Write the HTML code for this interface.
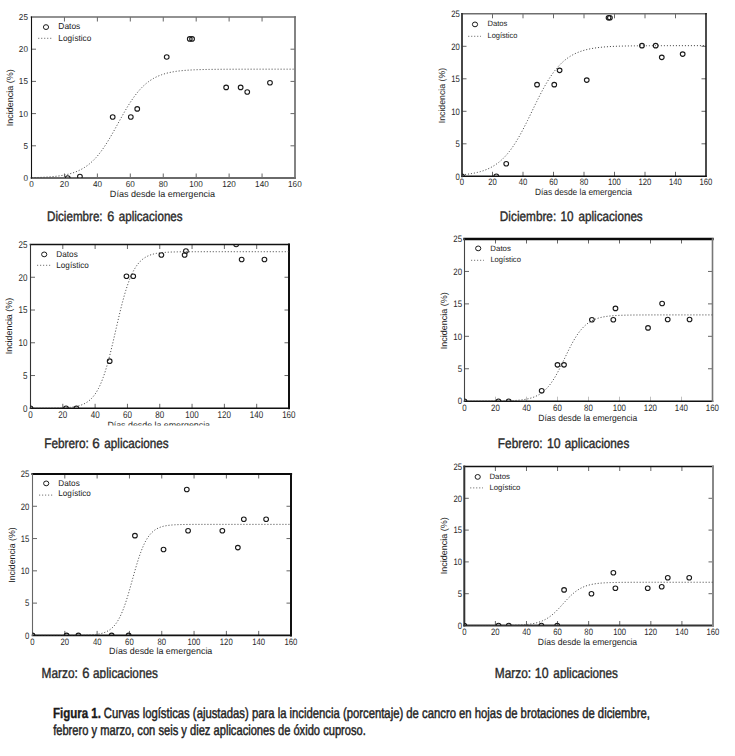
<!DOCTYPE html>
<html><head><meta charset="utf-8"><style>
html,body{margin:0;padding:0;background:#fff;}
svg{display:block;}
text{font-family:"Liberation Sans",sans-serif;fill:#1e1e1e;text-rendering:geometricPrecision;}
.t{fill:#2a2a2a;}
.a{fill:#222;}
.l{fill:#222;}
.c{fill:#2a2a2a;stroke:#2a2a2a;stroke-width:0.4px;}
.fb{fill:#1a1a1a;font-weight:bold;stroke:#1a1a1a;stroke-width:0.35px;}
.fr{fill:#222;stroke:#222;stroke-width:0.45px;}
</style></head><body>
<svg width="735" height="756" viewBox="0 0 735 756">
<rect width="735" height="756" fill="#fff"/>
<g><path d="M64.44 178v-4.5" stroke="#333" stroke-width="0.75"/><path d="M64.44 17v4.5" stroke="#333" stroke-width="0.75"/>
<path d="M97.38 178v-4.5" stroke="#333" stroke-width="0.75"/><path d="M97.38 17v4.5" stroke="#333" stroke-width="0.75"/>
<path d="M130.31 178v-4.5" stroke="#333" stroke-width="0.75"/><path d="M130.31 17v4.5" stroke="#333" stroke-width="0.75"/>
<path d="M163.25 178v-4.5" stroke="#333" stroke-width="0.75"/><path d="M163.25 17v4.5" stroke="#333" stroke-width="0.75"/>
<path d="M196.19 178v-4.5" stroke="#333" stroke-width="0.75"/><path d="M196.19 17v4.5" stroke="#333" stroke-width="0.75"/>
<path d="M229.12 178v-4.5" stroke="#333" stroke-width="0.75"/><path d="M229.12 17v4.5" stroke="#333" stroke-width="0.75"/>
<path d="M262.06 178v-4.5" stroke="#333" stroke-width="0.75"/><path d="M262.06 17v4.5" stroke="#333" stroke-width="0.75"/>
<path d="M31.5 145.8h4.5M295 145.8h-4.5" stroke="#333" stroke-width="0.75"/>
<path d="M31.5 113.6h4.5M295 113.6h-4.5" stroke="#333" stroke-width="0.75"/>
<path d="M31.5 81.4h4.5M295 81.4h-4.5" stroke="#333" stroke-width="0.75"/>
<path d="M31.5 49.2h4.5M295 49.2h-4.5" stroke="#333" stroke-width="0.75"/>
<line x1="31.5" y1="17" x2="295" y2="17" stroke="#6e6e6e" stroke-width="1.7" stroke-linecap="square"/>
<line x1="31.5" y1="178" x2="295" y2="178" stroke="#6a6a6a" stroke-width="1.8" stroke-linecap="square"/>
<line x1="31.5" y1="17" x2="31.5" y2="178" stroke="#111" stroke-width="1.1" stroke-linecap="square"/>
<line x1="295" y1="17" x2="295" y2="178" stroke="#6e6e6e" stroke-width="1.7" stroke-linecap="square"/>
<text class="t" x="23.39" y="181.04" font-size="8.6" textLength="4.54" lengthAdjust="spacingAndGlyphs">0</text>
<text class="t" x="23.39" y="148.84" font-size="8.6" textLength="4.54" lengthAdjust="spacingAndGlyphs">5</text>
<text class="t" x="18.86" y="116.64" font-size="8.6" textLength="9.09" lengthAdjust="spacingAndGlyphs">10</text>
<text class="t" x="18.86" y="84.44" font-size="8.6" textLength="9.09" lengthAdjust="spacingAndGlyphs">15</text>
<text class="t" x="18.86" y="52.24" font-size="8.6" textLength="9.09" lengthAdjust="spacingAndGlyphs">20</text>
<text class="t" x="18.86" y="20.04" font-size="8.6" textLength="9.09" lengthAdjust="spacingAndGlyphs">25</text>
<text class="t" x="29.23" y="186.6" font-size="8.6" textLength="4.54" lengthAdjust="spacingAndGlyphs">0</text>
<text class="t" x="59.86" y="186.6" font-size="8.6" textLength="9.09" lengthAdjust="spacingAndGlyphs">20</text>
<text class="t" x="92.9" y="186.6" font-size="8.6" textLength="9.09" lengthAdjust="spacingAndGlyphs">40</text>
<text class="t" x="125.74" y="186.6" font-size="8.6" textLength="9.09" lengthAdjust="spacingAndGlyphs">60</text>
<text class="t" x="158.7" y="186.6" font-size="8.6" textLength="9.09" lengthAdjust="spacingAndGlyphs">80</text>
<text class="t" x="189.24" y="186.6" font-size="8.6" textLength="13.63" lengthAdjust="spacingAndGlyphs">100</text>
<text class="t" x="222.18" y="186.6" font-size="8.6" textLength="13.63" lengthAdjust="spacingAndGlyphs">120</text>
<text class="t" x="255.12" y="186.6" font-size="8.6" textLength="13.63" lengthAdjust="spacingAndGlyphs">140</text>
<text class="t" x="288.06" y="186.6" font-size="8.6" textLength="13.63" lengthAdjust="spacingAndGlyphs">160</text>
<text class="a" x="109.88" y="196.6" font-size="9" textLength="105.15" lengthAdjust="spacingAndGlyphs">Días desde la emergencia</text>
<text class="a" transform="translate(12.9 125.5) rotate(-90)" x="-0.81" y="0" font-size="9" textLength="56.96" lengthAdjust="spacingAndGlyphs">Incidencia (%)</text>
<ellipse cx="46" cy="27.1" rx="2.6" ry="2.4" fill="none" stroke="#1a1a1a" stroke-width="1"/>
<text class="l" x="58.33" y="28.8" font-size="8.6" textLength="21.99" lengthAdjust="spacingAndGlyphs">Datos</text>
<path d="M38.1 38.3H52.4" stroke="#666" stroke-width="0.9" stroke-dasharray="1.2 1.8"/>
<text class="l" x="58.34" y="40.7" font-size="8.6" textLength="33.01" lengthAdjust="spacingAndGlyphs">Logístico</text>
<clipPath id="cP1"><rect x="31.5" y="17" width="263.5" height="161"/></clipPath>
<g clip-path="url(#cP1)">
<polyline points="31.5,177.66 33.15,177.62 34.79,177.58 36.44,177.53 38.09,177.48 39.73,177.42 41.38,177.35 43.03,177.28 44.67,177.19 46.32,177.1 47.97,176.99 49.62,176.88 51.26,176.75 52.91,176.61 54.56,176.45 56.2,176.27 57.85,176.07 59.5,175.85 61.14,175.61 62.79,175.34 64.44,175.03 66.08,174.7 67.73,174.33 69.38,173.92 71.03,173.46 72.67,172.96 74.32,172.4 75.97,171.79 77.61,171.11 79.26,170.37 80.91,169.55 82.55,168.65 84.2,167.67 85.85,166.59 87.49,165.42 89.14,164.14 90.79,162.76 92.43,161.26 94.08,159.64 95.73,157.9 97.38,156.04 99.02,154.04 100.67,151.93 102.32,149.68 103.96,147.32 105.61,144.84 107.26,142.25 108.9,139.56 110.55,136.78 112.2,133.93 113.84,131.02 115.49,128.06 117.14,125.08 118.78,122.09 120.43,119.1 122.08,116.15 123.72,113.23 125.37,110.38 127.02,107.6 128.67,104.92 130.31,102.33 131.96,99.85 133.61,97.48 135.25,95.24 136.9,93.12 138.55,91.13 140.19,89.26 141.84,87.52 143.49,85.9 145.13,84.4 146.78,83.02 148.43,81.74 150.07,80.57 151.72,79.49 153.37,78.51 155.02,77.61 156.66,76.79 158.31,76.05 159.96,75.37 161.6,74.76 163.25,74.2 164.9,73.7 166.54,73.25 168.19,72.84 169.84,72.46 171.48,72.13 173.13,71.83 174.78,71.56 176.43,71.31 178.07,71.09 179.72,70.9 181.37,70.72 183.01,70.56 184.66,70.41 186.31,70.29 187.95,70.17 189.6,70.07 191.25,69.97 192.89,69.89 194.54,69.81 196.19,69.75 197.83,69.69 199.48,69.63 201.13,69.58 202.78,69.54 204.42,69.5 206.07,69.47 207.72,69.43 209.36,69.41 211.01,69.38 212.66,69.36 214.3,69.34 215.95,69.32 217.6,69.3 219.24,69.29 220.89,69.28 222.54,69.26 224.18,69.25 225.83,69.24 227.48,69.24 229.12,69.23 230.77,69.22 232.42,69.22 234.07,69.21 235.71,69.21 237.36,69.2 239.01,69.2 240.65,69.19 242.3,69.19 243.95,69.19 245.59,69.19 247.24,69.18 248.89,69.18 250.53,69.18 252.18,69.18 253.83,69.18 255.47,69.18 257.12,69.17 258.77,69.17 260.42,69.17 262.06,69.17 263.71,69.17 265.36,69.17 267,69.17 268.65,69.17 270.3,69.17 271.94,69.17 273.59,69.17 275.24,69.17 276.88,69.17 278.53,69.17 280.18,69.17 281.82,69.17 283.47,69.17 285.12,69.17 286.77,69.17 288.41,69.17 290.06,69.17 291.71,69.16 293.35,69.16 295,69.16" fill="none" stroke="#444" stroke-width="0.95" stroke-dasharray="1.1 1.9"/>
<ellipse cx="67.73" cy="178" rx="2.35" ry="2.25" fill="none" stroke="#1a1a1a" stroke-width="1.1"/>
<ellipse cx="79.92" cy="176.52" rx="2.35" ry="2.25" fill="none" stroke="#1a1a1a" stroke-width="1.1"/>
<ellipse cx="112.69" cy="117.01" rx="2.35" ry="2.25" fill="none" stroke="#1a1a1a" stroke-width="1.1"/>
<ellipse cx="130.81" cy="117.01" rx="2.35" ry="2.25" fill="none" stroke="#1a1a1a" stroke-width="1.1"/>
<ellipse cx="137.23" cy="108.9" rx="2.35" ry="2.25" fill="none" stroke="#1a1a1a" stroke-width="1.1"/>
<ellipse cx="166.71" cy="56.93" rx="2.35" ry="2.25" fill="none" stroke="#1a1a1a" stroke-width="1.1"/>
<ellipse cx="189.76" cy="38.9" rx="2.35" ry="2.25" fill="none" stroke="#1a1a1a" stroke-width="1.1"/>
<ellipse cx="192.07" cy="38.9" rx="2.35" ry="2.25" fill="none" stroke="#1a1a1a" stroke-width="1.1"/>
<ellipse cx="226.16" cy="87.39" rx="2.35" ry="2.25" fill="none" stroke="#1a1a1a" stroke-width="1.1"/>
<ellipse cx="240.65" cy="87.39" rx="2.35" ry="2.25" fill="none" stroke="#1a1a1a" stroke-width="1.1"/>
<ellipse cx="247.24" cy="92.03" rx="2.35" ry="2.25" fill="none" stroke="#1a1a1a" stroke-width="1.1"/>
<ellipse cx="269.97" cy="82.69" rx="2.35" ry="2.25" fill="none" stroke="#1a1a1a" stroke-width="1.1"/>
</g>
<text class="c" x="47.07" y="220.7" font-size="13.8" textLength="55.52" lengthAdjust="spacingAndGlyphs">Diciembre:</text>
<text class="c" x="107.27" y="220.7" font-size="13.8" textLength="7.01" lengthAdjust="spacingAndGlyphs">6</text>
<text class="c" x="118.78" y="220.7" font-size="13.8" textLength="63.81" lengthAdjust="spacingAndGlyphs">aplicaciones</text></g>
<g><path d="M492.5 176.3v-4.5" stroke="#333" stroke-width="0.75"/><path d="M492.5 13.8v4.5" stroke="#333" stroke-width="0.75"/>
<path d="M523 176.3v-4.5" stroke="#333" stroke-width="0.75"/><path d="M523 13.8v4.5" stroke="#333" stroke-width="0.75"/>
<path d="M553.5 176.3v-4.5" stroke="#333" stroke-width="0.75"/><path d="M553.5 13.8v4.5" stroke="#333" stroke-width="0.75"/>
<path d="M584 176.3v-4.5" stroke="#333" stroke-width="0.75"/><path d="M584 13.8v4.5" stroke="#333" stroke-width="0.75"/>
<path d="M614.5 176.3v-4.5" stroke="#333" stroke-width="0.75"/><path d="M614.5 13.8v4.5" stroke="#333" stroke-width="0.75"/>
<path d="M645 176.3v-4.5" stroke="#333" stroke-width="0.75"/><path d="M645 13.8v4.5" stroke="#333" stroke-width="0.75"/>
<path d="M675.5 176.3v-4.5" stroke="#333" stroke-width="0.75"/><path d="M675.5 13.8v4.5" stroke="#333" stroke-width="0.75"/>
<path d="M462 143.8h4.5M706 143.8h-4.5" stroke="#333" stroke-width="0.75"/>
<path d="M462 111.3h4.5M706 111.3h-4.5" stroke="#333" stroke-width="0.75"/>
<path d="M462 78.8h4.5M706 78.8h-4.5" stroke="#333" stroke-width="0.75"/>
<path d="M462 46.3h4.5M706 46.3h-4.5" stroke="#333" stroke-width="0.75"/>
<line x1="462" y1="13.8" x2="706" y2="13.8" stroke="#6e6e6e" stroke-width="1.6" stroke-linecap="square"/>
<line x1="462" y1="176.3" x2="706" y2="176.3" stroke="#111" stroke-width="1.5" stroke-linecap="square"/>
<line x1="462" y1="13.8" x2="462" y2="176.3" stroke="#333" stroke-width="1.8" stroke-linecap="square"/>
<line x1="706" y1="13.8" x2="706" y2="176.3" stroke="#111" stroke-width="1.5" stroke-linecap="square"/>
<text class="t" x="455.62" y="179.59" font-size="9.3" textLength="4.29" lengthAdjust="spacingAndGlyphs">0</text>
<text class="t" x="455.62" y="147.09" font-size="9.3" textLength="4.29" lengthAdjust="spacingAndGlyphs">5</text>
<text class="t" x="451.34" y="114.59" font-size="9.3" textLength="8.59" lengthAdjust="spacingAndGlyphs">10</text>
<text class="t" x="451.34" y="82.09" font-size="9.3" textLength="8.59" lengthAdjust="spacingAndGlyphs">15</text>
<text class="t" x="451.34" y="49.59" font-size="9.3" textLength="8.59" lengthAdjust="spacingAndGlyphs">20</text>
<text class="t" x="451.34" y="17.09" font-size="9.3" textLength="8.59" lengthAdjust="spacingAndGlyphs">25</text>
<text class="t" x="459.86" y="185" font-size="9.3" textLength="4.29" lengthAdjust="spacingAndGlyphs">0</text>
<text class="t" x="488.18" y="185" font-size="9.3" textLength="8.59" lengthAdjust="spacingAndGlyphs">20</text>
<text class="t" x="518.77" y="185" font-size="9.3" textLength="8.59" lengthAdjust="spacingAndGlyphs">40</text>
<text class="t" x="549.18" y="185" font-size="9.3" textLength="8.59" lengthAdjust="spacingAndGlyphs">60</text>
<text class="t" x="579.7" y="185" font-size="9.3" textLength="8.59" lengthAdjust="spacingAndGlyphs">80</text>
<text class="t" x="607.94" y="185" font-size="9.3" textLength="12.88" lengthAdjust="spacingAndGlyphs">100</text>
<text class="t" x="638.44" y="185" font-size="9.3" textLength="12.88" lengthAdjust="spacingAndGlyphs">120</text>
<text class="t" x="668.94" y="185" font-size="9.3" textLength="12.88" lengthAdjust="spacingAndGlyphs">140</text>
<text class="t" x="699.44" y="185" font-size="9.3" textLength="12.88" lengthAdjust="spacingAndGlyphs">160</text>
<text class="a" x="535.03" y="194.9" font-size="9" textLength="96.99" lengthAdjust="spacingAndGlyphs">Días desde la emergencia</text>
<text class="a" transform="translate(444.9 122.5) rotate(-90)" x="-0.79" y="0" font-size="9" textLength="55.42" lengthAdjust="spacingAndGlyphs">Incidencia (%)</text>
<ellipse cx="475" cy="24.4" rx="2.6" ry="2.4" fill="none" stroke="#1a1a1a" stroke-width="1"/>
<text class="l" x="487.49" y="26.3" font-size="7.8" textLength="19.89" lengthAdjust="spacingAndGlyphs">Datos</text>
<path d="M468.1 36.3H481" stroke="#666" stroke-width="0.9" stroke-dasharray="1.2 1.8"/>
<text class="l" x="487.5" y="37.7" font-size="7.8" textLength="29.92" lengthAdjust="spacingAndGlyphs">Logístico</text>
<clipPath id="cP2"><rect x="462" y="13.8" width="244" height="162.5"/></clipPath>
<g clip-path="url(#cP2)">
<polyline points="462,174.81 463.52,174.66 465.05,174.49 466.57,174.31 468.1,174.11 469.62,173.9 471.15,173.66 472.68,173.39 474.2,173.1 475.73,172.79 477.25,172.44 478.77,172.06 480.3,171.64 481.82,171.19 483.35,170.69 484.88,170.14 486.4,169.55 487.93,168.9 489.45,168.2 490.98,167.43 492.5,166.59 494.02,165.68 495.55,164.69 497.07,163.63 498.6,162.47 500.12,161.23 501.65,159.88 503.18,158.44 504.7,156.89 506.23,155.23 507.75,153.46 509.27,151.58 510.8,149.57 512.33,147.45 513.85,145.21 515.38,142.86 516.9,140.39 518.42,137.81 519.95,135.12 521.48,132.34 523,129.47 524.52,126.51 526.05,123.49 527.58,120.41 529.1,117.29 530.62,114.14 532.15,110.98 533.67,107.81 535.2,104.66 536.73,101.54 538.25,98.46 539.77,95.44 541.3,92.48 542.83,89.61 544.35,86.83 545.88,84.14 547.4,81.56 548.92,79.09 550.45,76.74 551.98,74.5 553.5,72.38 555.02,70.37 556.55,68.49 558.08,66.72 559.6,65.06 561.12,63.51 562.65,62.07 564.17,60.72 565.7,59.48 567.23,58.32 568.75,57.26 570.27,56.27 571.8,55.36 573.33,54.52 574.85,53.75 576.38,53.05 577.9,52.4 579.42,51.81 580.95,51.26 582.48,50.76 584,50.31 585.52,49.89 587.05,49.51 588.58,49.16 590.1,48.85 591.62,48.56 593.15,48.29 594.67,48.05 596.2,47.84 597.73,47.64 599.25,47.46 600.77,47.29 602.3,47.14 603.83,47 605.35,46.88 606.88,46.77 608.4,46.66 609.92,46.57 611.45,46.49 612.98,46.41 614.5,46.34 616.02,46.28 617.55,46.22 619.08,46.17 620.6,46.12 622.12,46.08 623.65,46.04 625.17,46 626.7,45.97 628.23,45.94 629.75,45.91 631.27,45.89 632.8,45.87 634.33,45.85 635.85,45.83 637.38,45.81 638.9,45.8 640.42,45.78 641.95,45.77 643.48,45.76 645,45.75 646.52,45.74 648.05,45.73 649.58,45.72 651.1,45.72 652.62,45.71 654.15,45.71 655.67,45.7 657.2,45.7 658.73,45.69 660.25,45.69 661.77,45.68 663.3,45.68 664.83,45.68 666.35,45.68 667.88,45.67 669.4,45.67 670.92,45.67 672.45,45.67 673.98,45.67 675.5,45.66 677.02,45.66 678.55,45.66 680.08,45.66 681.6,45.66 683.12,45.66 684.65,45.66 686.17,45.66 687.7,45.66 689.23,45.66 690.75,45.66 692.27,45.65 693.8,45.65 695.33,45.65 696.85,45.65 698.38,45.65 699.9,45.65 701.42,45.65 702.95,45.65 704.48,45.65 706,45.65" fill="none" stroke="#444" stroke-width="0.95" stroke-dasharray="1.1 1.9"/>
<ellipse cx="462" cy="176.3" rx="2.35" ry="2.25" fill="none" stroke="#1a1a1a" stroke-width="1.1"/>
<ellipse cx="496.31" cy="176.3" rx="2.35" ry="2.25" fill="none" stroke="#1a1a1a" stroke-width="1.1"/>
<ellipse cx="506.23" cy="163.69" rx="2.35" ry="2.25" fill="none" stroke="#1a1a1a" stroke-width="1.1"/>
<ellipse cx="537.03" cy="84.65" rx="2.35" ry="2.25" fill="none" stroke="#1a1a1a" stroke-width="1.1"/>
<ellipse cx="554.26" cy="84.65" rx="2.35" ry="2.25" fill="none" stroke="#1a1a1a" stroke-width="1.1"/>
<ellipse cx="559.6" cy="70.35" rx="2.35" ry="2.25" fill="none" stroke="#1a1a1a" stroke-width="1.1"/>
<ellipse cx="586.75" cy="80.1" rx="2.35" ry="2.25" fill="none" stroke="#1a1a1a" stroke-width="1.1"/>
<ellipse cx="608.55" cy="17.7" rx="2.35" ry="2.25" fill="none" stroke="#1a1a1a" stroke-width="1.1"/>
<ellipse cx="609.92" cy="17.7" rx="2.35" ry="2.25" fill="none" stroke="#1a1a1a" stroke-width="1.1"/>
<ellipse cx="641.95" cy="45.65" rx="2.35" ry="2.25" fill="none" stroke="#1a1a1a" stroke-width="1.1"/>
<ellipse cx="655.67" cy="45.65" rx="2.35" ry="2.25" fill="none" stroke="#1a1a1a" stroke-width="1.1"/>
<ellipse cx="661.77" cy="57.35" rx="2.35" ry="2.25" fill="none" stroke="#1a1a1a" stroke-width="1.1"/>
<ellipse cx="682.67" cy="54.1" rx="2.35" ry="2.25" fill="none" stroke="#1a1a1a" stroke-width="1.1"/>
</g>
<text class="c" x="499.86" y="220.7" font-size="13.8" textLength="56.35" lengthAdjust="spacingAndGlyphs">Diciembre:</text>
<text class="c" x="560.43" y="220.7" font-size="13.8" textLength="12.97" lengthAdjust="spacingAndGlyphs">10</text>
<text class="c" x="578.58" y="220.7" font-size="13.8" textLength="64.12" lengthAdjust="spacingAndGlyphs">aplicaciones</text></g>
<g><path d="M62.81 408.3v-4.5" stroke="#333" stroke-width="0.75"/><path d="M62.81 244.5v4.5" stroke="#333" stroke-width="0.75"/>
<path d="M95.12 408.3v-4.5" stroke="#333" stroke-width="0.75"/><path d="M95.12 244.5v4.5" stroke="#333" stroke-width="0.75"/>
<path d="M127.44 408.3v-4.5" stroke="#333" stroke-width="0.75"/><path d="M127.44 244.5v4.5" stroke="#333" stroke-width="0.75"/>
<path d="M159.75 408.3v-4.5" stroke="#333" stroke-width="0.75"/><path d="M159.75 244.5v4.5" stroke="#333" stroke-width="0.75"/>
<path d="M192.06 408.3v-4.5" stroke="#333" stroke-width="0.75"/><path d="M192.06 244.5v4.5" stroke="#333" stroke-width="0.75"/>
<path d="M224.38 408.3v-4.5" stroke="#333" stroke-width="0.75"/><path d="M224.38 244.5v4.5" stroke="#333" stroke-width="0.75"/>
<path d="M256.69 408.3v-4.5" stroke="#333" stroke-width="0.75"/><path d="M256.69 244.5v4.5" stroke="#333" stroke-width="0.75"/>
<path d="M30.5 375.54h4.5M289 375.54h-4.5" stroke="#333" stroke-width="0.75"/>
<path d="M30.5 342.78h4.5M289 342.78h-4.5" stroke="#333" stroke-width="0.75"/>
<path d="M30.5 310.02h4.5M289 310.02h-4.5" stroke="#333" stroke-width="0.75"/>
<path d="M30.5 277.26h4.5M289 277.26h-4.5" stroke="#333" stroke-width="0.75"/>
<line x1="30.5" y1="244.5" x2="289" y2="244.5" stroke="#111" stroke-width="1.6" stroke-linecap="square"/>
<line x1="30.5" y1="408.3" x2="289" y2="408.3" stroke="#111" stroke-width="1.6" stroke-linecap="square"/>
<line x1="30.5" y1="244.5" x2="30.5" y2="408.3" stroke="#333" stroke-width="1.1" stroke-linecap="square"/>
<line x1="289" y1="244.5" x2="289" y2="408.3" stroke="#111" stroke-width="2" stroke-linecap="square"/>
<text class="t" x="23.06" y="411.77" font-size="9.8" textLength="4.47" lengthAdjust="spacingAndGlyphs">0</text>
<text class="t" x="23.06" y="379.01" font-size="9.8" textLength="4.47" lengthAdjust="spacingAndGlyphs">5</text>
<text class="t" x="18.6" y="346.25" font-size="9.8" textLength="8.94" lengthAdjust="spacingAndGlyphs">10</text>
<text class="t" x="18.6" y="313.49" font-size="9.8" textLength="8.94" lengthAdjust="spacingAndGlyphs">15</text>
<text class="t" x="18.6" y="280.73" font-size="9.8" textLength="8.94" lengthAdjust="spacingAndGlyphs">20</text>
<text class="t" x="18.6" y="247.97" font-size="9.8" textLength="8.94" lengthAdjust="spacingAndGlyphs">25</text>
<text class="t" x="28.27" y="417.9" font-size="9.8" textLength="4.47" lengthAdjust="spacingAndGlyphs">0</text>
<text class="t" x="58.31" y="417.9" font-size="9.8" textLength="8.94" lengthAdjust="spacingAndGlyphs">20</text>
<text class="t" x="90.73" y="417.9" font-size="9.8" textLength="8.94" lengthAdjust="spacingAndGlyphs">40</text>
<text class="t" x="122.94" y="417.9" font-size="9.8" textLength="8.94" lengthAdjust="spacingAndGlyphs">60</text>
<text class="t" x="155.27" y="417.9" font-size="9.8" textLength="8.94" lengthAdjust="spacingAndGlyphs">80</text>
<text class="t" x="185.23" y="417.9" font-size="9.8" textLength="13.41" lengthAdjust="spacingAndGlyphs">100</text>
<text class="t" x="217.54" y="417.9" font-size="9.8" textLength="13.41" lengthAdjust="spacingAndGlyphs">120</text>
<text class="t" x="249.86" y="417.9" font-size="9.8" textLength="13.41" lengthAdjust="spacingAndGlyphs">140</text>
<text class="t" x="282.17" y="417.9" font-size="9.8" textLength="13.41" lengthAdjust="spacingAndGlyphs">160</text>
<clipPath id="xcP3"><rect x="0" y="0" width="735" height="425.5"/></clipPath>
<text class="a" x="107.39" y="428" font-size="9" textLength="102.63" lengthAdjust="spacingAndGlyphs" clip-path="url(#xcP3)">Días desde la emergencia</text>
<text class="a" transform="translate(12.4 353.5) rotate(-90)" x="-0.8" y="0" font-size="9" textLength="56.45" lengthAdjust="spacingAndGlyphs">Incidencia (%)</text>
<ellipse cx="44.2" cy="254.4" rx="2.6" ry="2.4" fill="none" stroke="#1a1a1a" stroke-width="1"/>
<text class="l" x="56.34" y="256.8" font-size="8.4" textLength="21.46" lengthAdjust="spacingAndGlyphs">Datos</text>
<path d="M37 265.3H50.9" stroke="#666" stroke-width="0.9" stroke-dasharray="1.2 1.8"/>
<text class="l" x="56.35" y="267.7" font-size="8.4" textLength="32.49" lengthAdjust="spacingAndGlyphs">Logístico</text>
<clipPath id="cP3"><rect x="30.5" y="244.5" width="258.5" height="163.8"/></clipPath>
<g clip-path="url(#cP3)">
<polyline points="30.5,408.29 32.12,408.29 33.73,408.28 35.35,408.28 36.96,408.28 38.58,408.27 40.19,408.27 41.81,408.26 43.42,408.25 45.04,408.24 46.66,408.23 48.27,408.22 49.89,408.2 51.5,408.18 53.12,408.16 54.73,408.13 56.35,408.09 57.97,408.05 59.58,408 61.2,407.94 62.81,407.87 64.43,407.79 66.04,407.69 67.66,407.57 69.28,407.43 70.89,407.26 72.51,407.05 74.12,406.81 75.74,406.52 77.35,406.17 78.97,405.76 80.58,405.27 82.2,404.68 83.82,403.99 85.43,403.16 87.05,402.19 88.66,401.04 90.28,399.69 91.89,398.1 93.51,396.24 95.12,394.08 96.74,391.58 98.36,388.69 99.97,385.39 101.59,381.64 103.2,377.42 104.82,372.72 106.43,367.53 108.05,361.87 109.67,355.78 111.28,349.33 112.9,342.58 114.51,335.63 116.13,328.59 117.74,321.58 119.36,314.7 120.97,308.06 122.59,301.74 124.21,295.82 125.82,290.35 127.44,285.35 129.05,280.84 130.67,276.81 132.28,273.24 133.9,270.11 135.52,267.38 137.13,265.02 138.75,262.99 140.36,261.24 141.98,259.75 143.59,258.48 145.21,257.41 146.82,256.5 148.44,255.73 150.06,255.08 151.67,254.53 153.29,254.08 154.9,253.69 156.52,253.37 158.13,253.1 159.75,252.87 161.37,252.68 162.98,252.52 164.6,252.39 166.21,252.28 167.83,252.18 169.44,252.1 171.06,252.04 172.68,251.98 174.29,251.94 175.91,251.9 177.52,251.87 179.14,251.84 180.75,251.82 182.37,251.8 183.98,251.79 185.6,251.77 187.22,251.76 188.83,251.75 190.45,251.75 192.06,251.74 193.68,251.73 195.29,251.73 196.91,251.73 198.53,251.72 200.14,251.72 201.76,251.72 203.37,251.72 204.99,251.71 206.6,251.71 208.22,251.71 209.83,251.71 211.45,251.71 213.07,251.71 214.68,251.71 216.3,251.71 217.91,251.71 219.53,251.71 221.14,251.71 222.76,251.71 224.38,251.71 225.99,251.71 227.61,251.71 229.22,251.71 230.84,251.71 232.45,251.71 234.07,251.71 235.68,251.71 237.3,251.71 238.92,251.71 240.53,251.71 242.15,251.71 243.76,251.71 245.38,251.71 246.99,251.71 248.61,251.71 250.22,251.71 251.84,251.71 253.46,251.71 255.07,251.71 256.69,251.71 258.3,251.71 259.92,251.71 261.53,251.71 263.15,251.71 264.77,251.71 266.38,251.71 268,251.71 269.61,251.71 271.23,251.71 272.84,251.71 274.46,251.71 276.07,251.71 277.69,251.71 279.31,251.71 280.92,251.71 282.54,251.71 284.15,251.71 285.77,251.71 287.38,251.71 289,251.71" fill="none" stroke="#444" stroke-width="0.95" stroke-dasharray="1.1 1.9"/>
<ellipse cx="30.5" cy="408.3" rx="2.35" ry="2.25" fill="none" stroke="#1a1a1a" stroke-width="1.1"/>
<ellipse cx="66.04" cy="408.3" rx="2.35" ry="2.25" fill="none" stroke="#1a1a1a" stroke-width="1.1"/>
<ellipse cx="76.38" cy="408.3" rx="2.35" ry="2.25" fill="none" stroke="#1a1a1a" stroke-width="1.1"/>
<ellipse cx="109.67" cy="361.13" rx="2.35" ry="2.25" fill="none" stroke="#1a1a1a" stroke-width="1.1"/>
<ellipse cx="126.47" cy="276.28" rx="2.35" ry="2.25" fill="none" stroke="#1a1a1a" stroke-width="1.1"/>
<ellipse cx="133.25" cy="276.28" rx="2.35" ry="2.25" fill="none" stroke="#1a1a1a" stroke-width="1.1"/>
<ellipse cx="161.37" cy="254.98" rx="2.35" ry="2.25" fill="none" stroke="#1a1a1a" stroke-width="1.1"/>
<ellipse cx="184.63" cy="254.98" rx="2.35" ry="2.25" fill="none" stroke="#1a1a1a" stroke-width="1.1"/>
<ellipse cx="185.92" cy="251.05" rx="2.35" ry="2.25" fill="none" stroke="#1a1a1a" stroke-width="1.1"/>
<ellipse cx="236.17" cy="244.5" rx="2.35" ry="2.25" fill="none" stroke="#1a1a1a" stroke-width="1.1"/>
<ellipse cx="241.66" cy="259.57" rx="2.35" ry="2.25" fill="none" stroke="#1a1a1a" stroke-width="1.1"/>
<ellipse cx="264.44" cy="259.57" rx="2.35" ry="2.25" fill="none" stroke="#1a1a1a" stroke-width="1.1"/>
</g>
<text class="c" x="44.25" y="447.8" font-size="13.8" textLength="44.66" lengthAdjust="spacingAndGlyphs">Febrero:</text>
<text class="c" x="92.13" y="447.8" font-size="13.8" textLength="7.5" lengthAdjust="spacingAndGlyphs">6</text>
<text class="c" x="104.37" y="447.8" font-size="13.8" textLength="64.22" lengthAdjust="spacingAndGlyphs">aplicaciones</text></g>
<g><path d="M495.5 401.2v-4.5" stroke="#aaa" stroke-width="0.75"/><path d="M495.5 239v4.5" stroke="#333" stroke-width="0.75"/>
<path d="M526.5 401.2v-4.5" stroke="#aaa" stroke-width="0.75"/><path d="M526.5 239v4.5" stroke="#333" stroke-width="0.75"/>
<path d="M557.5 401.2v-4.5" stroke="#aaa" stroke-width="0.75"/><path d="M557.5 239v4.5" stroke="#333" stroke-width="0.75"/>
<path d="M588.5 401.2v-4.5" stroke="#aaa" stroke-width="0.75"/><path d="M588.5 239v4.5" stroke="#333" stroke-width="0.75"/>
<path d="M619.5 401.2v-4.5" stroke="#aaa" stroke-width="0.75"/><path d="M619.5 239v4.5" stroke="#333" stroke-width="0.75"/>
<path d="M650.5 401.2v-4.5" stroke="#aaa" stroke-width="0.75"/><path d="M650.5 239v4.5" stroke="#333" stroke-width="0.75"/>
<path d="M681.5 401.2v-4.5" stroke="#aaa" stroke-width="0.75"/><path d="M681.5 239v4.5" stroke="#333" stroke-width="0.75"/>
<path d="M464.5 368.76h4.5M712.5 368.76h-4.5" stroke="#333" stroke-width="0.75"/>
<path d="M464.5 336.32h4.5M712.5 336.32h-4.5" stroke="#333" stroke-width="0.75"/>
<path d="M464.5 303.88h4.5M712.5 303.88h-4.5" stroke="#333" stroke-width="0.75"/>
<path d="M464.5 271.44h4.5M712.5 271.44h-4.5" stroke="#333" stroke-width="0.75"/>
<line x1="464.5" y1="239" x2="712.5" y2="239" stroke="#0a0a0a" stroke-width="2.4" stroke-linecap="square"/>
<line x1="464.5" y1="401.2" x2="712.5" y2="401.2" stroke="#111" stroke-width="1.6" stroke-linecap="square"/>
<line x1="464.5" y1="239" x2="464.5" y2="401.2" stroke="#444" stroke-width="1.1" stroke-linecap="square"/>
<line x1="712.5" y1="239" x2="712.5" y2="401.2" stroke="#777" stroke-width="1.6" stroke-linecap="square"/>
<text class="t" x="457.63" y="404.49" font-size="9.3" textLength="4.4" lengthAdjust="spacingAndGlyphs">0</text>
<text class="t" x="457.63" y="372.05" font-size="9.3" textLength="4.4" lengthAdjust="spacingAndGlyphs">5</text>
<text class="t" x="453.24" y="339.61" font-size="9.3" textLength="8.79" lengthAdjust="spacingAndGlyphs">10</text>
<text class="t" x="453.24" y="307.17" font-size="9.3" textLength="8.79" lengthAdjust="spacingAndGlyphs">15</text>
<text class="t" x="453.24" y="274.73" font-size="9.3" textLength="8.79" lengthAdjust="spacingAndGlyphs">20</text>
<text class="t" x="453.24" y="242.29" font-size="9.3" textLength="8.79" lengthAdjust="spacingAndGlyphs">25</text>
<text class="t" x="462.31" y="410.9" font-size="9.3" textLength="4.4" lengthAdjust="spacingAndGlyphs">0</text>
<text class="t" x="491.07" y="410.9" font-size="9.3" textLength="8.79" lengthAdjust="spacingAndGlyphs">20</text>
<text class="t" x="522.17" y="410.9" font-size="9.3" textLength="8.79" lengthAdjust="spacingAndGlyphs">40</text>
<text class="t" x="553.07" y="410.9" font-size="9.3" textLength="8.79" lengthAdjust="spacingAndGlyphs">60</text>
<text class="t" x="584.09" y="410.9" font-size="9.3" textLength="8.79" lengthAdjust="spacingAndGlyphs">80</text>
<text class="t" x="612.78" y="410.9" font-size="9.3" textLength="13.19" lengthAdjust="spacingAndGlyphs">100</text>
<text class="t" x="643.78" y="410.9" font-size="9.3" textLength="13.19" lengthAdjust="spacingAndGlyphs">120</text>
<text class="t" x="674.78" y="410.9" font-size="9.3" textLength="13.19" lengthAdjust="spacingAndGlyphs">140</text>
<text class="t" x="705.78" y="410.9" font-size="9.3" textLength="13.19" lengthAdjust="spacingAndGlyphs">160</text>
<text class="a" x="538.32" y="420.6" font-size="9" textLength="98.81" lengthAdjust="spacingAndGlyphs">Días desde la emergencia</text>
<text class="a" transform="translate(447.4 348.5) rotate(-90)" x="-0.81" y="0" font-size="9" textLength="56.96" lengthAdjust="spacingAndGlyphs">Incidencia (%)</text>
<ellipse cx="478.2" cy="248.4" rx="2.6" ry="2.4" fill="none" stroke="#1a1a1a" stroke-width="1"/>
<text class="l" x="490.37" y="250.8" font-size="7.8" textLength="20.52" lengthAdjust="spacingAndGlyphs">Datos</text>
<path d="M471 260.3H483.9" stroke="#666" stroke-width="0.9" stroke-dasharray="1.2 1.8"/>
<text class="l" x="490.39" y="261.8" font-size="7.8" textLength="30.53" lengthAdjust="spacingAndGlyphs">Logístico</text>
<clipPath id="cP4"><rect x="464.5" y="239" width="248" height="162.2"/></clipPath>
<g clip-path="url(#cP4)">
<polyline points="464.5,401.19 466.05,401.19 467.6,401.19 469.15,401.19 470.7,401.19 472.25,401.19 473.8,401.19 475.35,401.18 476.9,401.18 478.45,401.18 480,401.18 481.55,401.17 483.1,401.17 484.65,401.16 486.2,401.16 487.75,401.15 489.3,401.14 490.85,401.13 492.4,401.12 493.95,401.11 495.5,401.09 497.05,401.08 498.6,401.06 500.15,401.03 501.7,401.01 503.25,400.98 504.8,400.94 506.35,400.9 507.9,400.85 509.45,400.79 511,400.73 512.55,400.65 514.1,400.57 515.65,400.46 517.2,400.35 518.75,400.21 520.3,400.05 521.85,399.87 523.4,399.66 524.95,399.41 526.5,399.13 528.05,398.8 529.6,398.43 531.15,397.99 532.7,397.5 534.25,396.93 535.8,396.28 537.35,395.53 538.9,394.68 540.45,393.72 542,392.63 543.55,391.4 545.1,390.02 546.65,388.48 548.2,386.77 549.75,384.87 551.3,382.79 552.85,380.53 554.4,378.08 555.95,375.45 557.5,372.66 559.05,369.73 560.6,366.67 562.15,363.53 563.7,360.32 565.25,357.08 566.8,353.86 568.35,350.69 569.9,347.59 571.45,344.6 573,341.75 574.55,339.06 576.1,336.54 577.65,334.2 579.2,332.05 580.75,330.08 582.3,328.29 583.85,326.68 585.4,325.24 586.95,323.95 588.5,322.81 590.05,321.8 591.6,320.9 593.15,320.12 594.7,319.43 596.25,318.83 597.8,318.31 599.35,317.85 600.9,317.45 602.45,317.11 604,316.81 605.55,316.55 607.1,316.32 608.65,316.13 610.2,315.96 611.75,315.82 613.3,315.69 614.85,315.58 616.4,315.49 617.95,315.41 619.5,315.34 621.05,315.28 622.6,315.23 624.15,315.18 625.7,315.15 627.25,315.11 628.8,315.09 630.35,315.06 631.9,315.04 633.45,315.02 635,315.01 636.55,314.99 638.1,314.98 639.65,314.97 641.2,314.96 642.75,314.96 644.3,314.95 645.85,314.94 647.4,314.94 648.95,314.93 650.5,314.93 652.05,314.93 653.6,314.93 655.15,314.92 656.7,314.92 658.25,314.92 659.8,314.92 661.35,314.92 662.9,314.92 664.45,314.92 666,314.91 667.55,314.91 669.1,314.91 670.65,314.91 672.2,314.91 673.75,314.91 675.3,314.91 676.85,314.91 678.4,314.91 679.95,314.91 681.5,314.91 683.05,314.91 684.6,314.91 686.15,314.91 687.7,314.91 689.25,314.91 690.8,314.91 692.35,314.91 693.9,314.91 695.45,314.91 697,314.91 698.55,314.91 700.1,314.91 701.65,314.91 703.2,314.91 704.75,314.91 706.3,314.91 707.85,314.91 709.4,314.91 710.95,314.91 712.5,314.91" fill="none" stroke="#444" stroke-width="0.95" stroke-dasharray="1.1 1.9"/>
<ellipse cx="464.5" cy="401.2" rx="2.35" ry="2.25" fill="none" stroke="#1a1a1a" stroke-width="1.1"/>
<ellipse cx="498.44" cy="401.2" rx="2.35" ry="2.25" fill="none" stroke="#1a1a1a" stroke-width="1.1"/>
<ellipse cx="508.68" cy="401.2" rx="2.35" ry="2.25" fill="none" stroke="#1a1a1a" stroke-width="1.1"/>
<ellipse cx="541.69" cy="390.69" rx="2.35" ry="2.25" fill="none" stroke="#1a1a1a" stroke-width="1.1"/>
<ellipse cx="557.5" cy="364.87" rx="2.35" ry="2.25" fill="none" stroke="#1a1a1a" stroke-width="1.1"/>
<ellipse cx="564.01" cy="364.87" rx="2.35" ry="2.25" fill="none" stroke="#1a1a1a" stroke-width="1.1"/>
<ellipse cx="591.91" cy="319.78" rx="2.35" ry="2.25" fill="none" stroke="#1a1a1a" stroke-width="1.1"/>
<ellipse cx="613.3" cy="319.78" rx="2.35" ry="2.25" fill="none" stroke="#1a1a1a" stroke-width="1.1"/>
<ellipse cx="615.47" cy="308.42" rx="2.35" ry="2.25" fill="none" stroke="#1a1a1a" stroke-width="1.1"/>
<ellipse cx="648.02" cy="327.89" rx="2.35" ry="2.25" fill="none" stroke="#1a1a1a" stroke-width="1.1"/>
<ellipse cx="662.12" cy="303.56" rx="2.35" ry="2.25" fill="none" stroke="#1a1a1a" stroke-width="1.1"/>
<ellipse cx="667.7" cy="319.45" rx="2.35" ry="2.25" fill="none" stroke="#1a1a1a" stroke-width="1.1"/>
<ellipse cx="689.56" cy="319.45" rx="2.35" ry="2.25" fill="none" stroke="#1a1a1a" stroke-width="1.1"/>
</g>
<text class="c" x="497.85" y="447.8" font-size="13.8" textLength="44.77" lengthAdjust="spacingAndGlyphs">Febrero:</text>
<text class="c" x="546.88" y="447.8" font-size="13.8" textLength="13.64" lengthAdjust="spacingAndGlyphs">10</text>
<text class="c" x="564.67" y="447.8" font-size="13.8" textLength="64.62" lengthAdjust="spacingAndGlyphs">aplicaciones</text></g>
<g><path d="M64.81 635.4v-4.5" stroke="#333" stroke-width="0.75"/><path d="M64.81 474v4.5" stroke="#333" stroke-width="0.75"/>
<path d="M97.12 635.4v-4.5" stroke="#333" stroke-width="0.75"/><path d="M97.12 474v4.5" stroke="#333" stroke-width="0.75"/>
<path d="M129.44 635.4v-4.5" stroke="#333" stroke-width="0.75"/><path d="M129.44 474v4.5" stroke="#333" stroke-width="0.75"/>
<path d="M161.75 635.4v-4.5" stroke="#333" stroke-width="0.75"/><path d="M161.75 474v4.5" stroke="#333" stroke-width="0.75"/>
<path d="M194.06 635.4v-4.5" stroke="#333" stroke-width="0.75"/><path d="M194.06 474v4.5" stroke="#333" stroke-width="0.75"/>
<path d="M226.38 635.4v-4.5" stroke="#333" stroke-width="0.75"/><path d="M226.38 474v4.5" stroke="#333" stroke-width="0.75"/>
<path d="M258.69 635.4v-4.5" stroke="#333" stroke-width="0.75"/><path d="M258.69 474v4.5" stroke="#333" stroke-width="0.75"/>
<path d="M32.5 603.12h4.5M291 603.12h-4.5" stroke="#333" stroke-width="0.75"/>
<path d="M32.5 570.84h4.5M291 570.84h-4.5" stroke="#333" stroke-width="0.75"/>
<path d="M32.5 538.56h4.5M291 538.56h-4.5" stroke="#333" stroke-width="0.75"/>
<path d="M32.5 506.28h4.5M291 506.28h-4.5" stroke="#333" stroke-width="0.75"/>
<line x1="32.5" y1="474" x2="291" y2="474" stroke="#0a0a0a" stroke-width="2.2" stroke-linecap="square"/>
<line x1="32.5" y1="635.4" x2="291" y2="635.4" stroke="#111" stroke-width="1.6" stroke-linecap="square"/>
<line x1="32.5" y1="474" x2="32.5" y2="635.4" stroke="#666" stroke-width="1.1" stroke-linecap="square"/>
<line x1="291" y1="474" x2="291" y2="635.4" stroke="#111" stroke-width="2" stroke-linecap="square"/>
<text class="t" x="25.12" y="638.69" font-size="9.3" textLength="4.29" lengthAdjust="spacingAndGlyphs">0</text>
<text class="t" x="25.12" y="606.41" font-size="9.3" textLength="4.29" lengthAdjust="spacingAndGlyphs">5</text>
<text class="t" x="20.84" y="574.13" font-size="9.3" textLength="8.59" lengthAdjust="spacingAndGlyphs">10</text>
<text class="t" x="20.84" y="541.85" font-size="9.3" textLength="8.59" lengthAdjust="spacingAndGlyphs">15</text>
<text class="t" x="20.84" y="509.57" font-size="9.3" textLength="8.59" lengthAdjust="spacingAndGlyphs">20</text>
<text class="t" x="20.84" y="477.29" font-size="9.3" textLength="8.59" lengthAdjust="spacingAndGlyphs">25</text>
<text class="t" x="30.36" y="645" font-size="9.3" textLength="4.29" lengthAdjust="spacingAndGlyphs">0</text>
<text class="t" x="60.49" y="645" font-size="9.3" textLength="8.59" lengthAdjust="spacingAndGlyphs">20</text>
<text class="t" x="92.9" y="645" font-size="9.3" textLength="8.59" lengthAdjust="spacingAndGlyphs">40</text>
<text class="t" x="125.11" y="645" font-size="9.3" textLength="8.59" lengthAdjust="spacingAndGlyphs">60</text>
<text class="t" x="157.45" y="645" font-size="9.3" textLength="8.59" lengthAdjust="spacingAndGlyphs">80</text>
<text class="t" x="187.5" y="645" font-size="9.3" textLength="12.88" lengthAdjust="spacingAndGlyphs">100</text>
<text class="t" x="219.81" y="645" font-size="9.3" textLength="12.88" lengthAdjust="spacingAndGlyphs">120</text>
<text class="t" x="252.13" y="645" font-size="9.3" textLength="12.88" lengthAdjust="spacingAndGlyphs">140</text>
<text class="t" x="284.44" y="645" font-size="9.3" textLength="12.88" lengthAdjust="spacingAndGlyphs">160</text>
<text class="a" x="108.99" y="654.1" font-size="9" textLength="103.34" lengthAdjust="spacingAndGlyphs">Días desde la emergencia</text>
<text class="a" transform="translate(14.9 582) rotate(-90)" x="-0.79" y="0" font-size="9" textLength="55.42" lengthAdjust="spacingAndGlyphs">Incidencia (%)</text>
<ellipse cx="46.2" cy="483.4" rx="2.6" ry="2.4" fill="none" stroke="#1a1a1a" stroke-width="1"/>
<text class="l" x="58.34" y="485.8" font-size="8.4" textLength="21.46" lengthAdjust="spacingAndGlyphs">Datos</text>
<path d="M39 495.1H52.9" stroke="#666" stroke-width="0.9" stroke-dasharray="1.2 1.8"/>
<text class="l" x="58.35" y="496.3" font-size="8.4" textLength="32.49" lengthAdjust="spacingAndGlyphs">Logístico</text>
<clipPath id="cP5"><rect x="32.5" y="474" width="258.5" height="161.4"/></clipPath>
<g clip-path="url(#cP5)">
<polyline points="32.5,635.4 34.12,635.4 35.73,635.4 37.35,635.4 38.96,635.4 40.58,635.4 42.19,635.4 43.81,635.4 45.42,635.4 47.04,635.4 48.66,635.4 50.27,635.4 51.89,635.4 53.5,635.4 55.12,635.4 56.73,635.39 58.35,635.39 59.97,635.39 61.58,635.39 63.2,635.39 64.81,635.38 66.43,635.38 68.04,635.37 69.66,635.37 71.28,635.36 72.89,635.35 74.51,635.34 76.12,635.33 77.74,635.31 79.35,635.29 80.97,635.26 82.58,635.23 84.2,635.19 85.82,635.14 87.43,635.08 89.05,635 90.66,634.91 92.28,634.8 93.89,634.66 95.51,634.48 97.12,634.27 98.74,634.01 100.36,633.69 101.97,633.3 103.59,632.82 105.2,632.23 106.82,631.52 108.43,630.65 110.05,629.6 111.67,628.33 113.28,626.8 114.9,624.98 116.51,622.82 118.13,620.29 119.74,617.33 121.36,613.92 122.97,610.05 124.59,605.71 126.21,600.93 127.82,595.75 129.44,590.25 131.05,584.53 132.67,578.71 134.28,572.92 135.9,567.28 137.52,561.89 139.13,556.87 140.75,552.26 142.36,548.1 143.98,544.42 145.59,541.19 147.21,538.41 148.82,536.03 150.44,534.01 152.06,532.31 153.67,530.89 155.29,529.71 156.9,528.74 158.52,527.94 160.13,527.28 161.75,526.73 163.37,526.29 164.98,525.93 166.6,525.64 168.21,525.4 169.83,525.2 171.44,525.04 173.06,524.91 174.68,524.81 176.29,524.72 177.91,524.65 179.52,524.6 181.14,524.55 182.75,524.52 184.37,524.49 185.98,524.46 187.6,524.44 189.22,524.43 190.83,524.41 192.45,524.4 194.06,524.39 195.68,524.39 197.29,524.38 198.91,524.38 200.53,524.37 202.14,524.37 203.76,524.37 205.37,524.37 206.99,524.36 208.6,524.36 210.22,524.36 211.83,524.36 213.45,524.36 215.07,524.36 216.68,524.36 218.3,524.36 219.91,524.36 221.53,524.36 223.14,524.36 224.76,524.36 226.38,524.36 227.99,524.36 229.61,524.36 231.22,524.36 232.84,524.36 234.45,524.36 236.07,524.36 237.68,524.36 239.3,524.36 240.92,524.36 242.53,524.36 244.15,524.36 245.76,524.36 247.38,524.36 248.99,524.36 250.61,524.36 252.22,524.36 253.84,524.36 255.46,524.36 257.07,524.36 258.69,524.36 260.3,524.36 261.92,524.36 263.53,524.36 265.15,524.36 266.77,524.36 268.38,524.36 270,524.36 271.61,524.36 273.23,524.36 274.84,524.36 276.46,524.36 278.07,524.36 279.69,524.36 281.31,524.36 282.92,524.36 284.54,524.36 286.15,524.36 287.77,524.36 289.38,524.36 291,524.36" fill="none" stroke="#444" stroke-width="0.95" stroke-dasharray="1.1 1.9"/>
<ellipse cx="32.5" cy="635.4" rx="2.35" ry="2.25" fill="none" stroke="#1a1a1a" stroke-width="1.1"/>
<ellipse cx="66.59" cy="635.4" rx="2.35" ry="2.25" fill="none" stroke="#1a1a1a" stroke-width="1.1"/>
<ellipse cx="78.38" cy="635.4" rx="2.35" ry="2.25" fill="none" stroke="#1a1a1a" stroke-width="1.1"/>
<ellipse cx="111.67" cy="635.4" rx="2.35" ry="2.25" fill="none" stroke="#1a1a1a" stroke-width="1.1"/>
<ellipse cx="128.63" cy="635.4" rx="2.35" ry="2.25" fill="none" stroke="#1a1a1a" stroke-width="1.1"/>
<ellipse cx="134.93" cy="535.65" rx="2.35" ry="2.25" fill="none" stroke="#1a1a1a" stroke-width="1.1"/>
<ellipse cx="163.53" cy="549.54" rx="2.35" ry="2.25" fill="none" stroke="#1a1a1a" stroke-width="1.1"/>
<ellipse cx="186.79" cy="489.49" rx="2.35" ry="2.25" fill="none" stroke="#1a1a1a" stroke-width="1.1"/>
<ellipse cx="188.08" cy="530.81" rx="2.35" ry="2.25" fill="none" stroke="#1a1a1a" stroke-width="1.1"/>
<ellipse cx="222.34" cy="530.81" rx="2.35" ry="2.25" fill="none" stroke="#1a1a1a" stroke-width="1.1"/>
<ellipse cx="237.85" cy="547.6" rx="2.35" ry="2.25" fill="none" stroke="#1a1a1a" stroke-width="1.1"/>
<ellipse cx="243.82" cy="519.19" rx="2.35" ry="2.25" fill="none" stroke="#1a1a1a" stroke-width="1.1"/>
<ellipse cx="266.12" cy="519.19" rx="2.35" ry="2.25" fill="none" stroke="#1a1a1a" stroke-width="1.1"/>
</g>
<text class="c" x="41.55" y="678" font-size="14.6" textLength="36.34" lengthAdjust="spacingAndGlyphs" clip-path="url(#ccP5)">Marzo:</text>
<text class="c" x="82.15" y="678" font-size="14.6" textLength="7.25" lengthAdjust="spacingAndGlyphs" clip-path="url(#ccP5)">6</text>
<text class="c" x="93.07" y="678" font-size="14.6" textLength="64.83" lengthAdjust="spacingAndGlyphs" clip-path="url(#ccP5)">aplicaciones</text>
<clipPath id="ccP5"><rect x="0" y="0" width="735" height="678.4"/></clipPath></g>
<g><path d="M495.39 625.5v-4.5" stroke="#333" stroke-width="0.75"/><path d="M495.39 466.5v4.5" stroke="#333" stroke-width="0.75"/>
<path d="M526.48 625.5v-4.5" stroke="#333" stroke-width="0.75"/><path d="M526.48 466.5v4.5" stroke="#333" stroke-width="0.75"/>
<path d="M557.56 625.5v-4.5" stroke="#333" stroke-width="0.75"/><path d="M557.56 466.5v4.5" stroke="#333" stroke-width="0.75"/>
<path d="M588.65 625.5v-4.5" stroke="#333" stroke-width="0.75"/><path d="M588.65 466.5v4.5" stroke="#333" stroke-width="0.75"/>
<path d="M619.74 625.5v-4.5" stroke="#333" stroke-width="0.75"/><path d="M619.74 466.5v4.5" stroke="#333" stroke-width="0.75"/>
<path d="M650.83 625.5v-4.5" stroke="#333" stroke-width="0.75"/><path d="M650.83 466.5v4.5" stroke="#333" stroke-width="0.75"/>
<path d="M681.91 625.5v-4.5" stroke="#333" stroke-width="0.75"/><path d="M681.91 466.5v4.5" stroke="#333" stroke-width="0.75"/>
<path d="M464.3 593.7h4.5M713 593.7h-4.5" stroke="#333" stroke-width="0.75"/>
<path d="M464.3 561.9h4.5M713 561.9h-4.5" stroke="#333" stroke-width="0.75"/>
<path d="M464.3 530.1h4.5M713 530.1h-4.5" stroke="#333" stroke-width="0.75"/>
<path d="M464.3 498.3h4.5M713 498.3h-4.5" stroke="#333" stroke-width="0.75"/>
<line x1="464.3" y1="466.5" x2="713" y2="466.5" stroke="#111" stroke-width="1.6" stroke-linecap="square"/>
<line x1="464.3" y1="625.5" x2="713" y2="625.5" stroke="#333" stroke-width="2" stroke-linecap="square"/>
<line x1="464.3" y1="466.5" x2="464.3" y2="625.5" stroke="#333" stroke-width="2" stroke-linecap="square"/>
<line x1="713" y1="466.5" x2="713" y2="625.5" stroke="#888" stroke-width="2" stroke-linecap="square"/>
<text class="t" x="457.72" y="628.79" font-size="9.3" textLength="4.29" lengthAdjust="spacingAndGlyphs">0</text>
<text class="t" x="457.72" y="596.99" font-size="9.3" textLength="4.29" lengthAdjust="spacingAndGlyphs">5</text>
<text class="t" x="453.44" y="565.19" font-size="9.3" textLength="8.59" lengthAdjust="spacingAndGlyphs">10</text>
<text class="t" x="453.44" y="533.39" font-size="9.3" textLength="8.59" lengthAdjust="spacingAndGlyphs">15</text>
<text class="t" x="453.44" y="501.59" font-size="9.3" textLength="8.59" lengthAdjust="spacingAndGlyphs">20</text>
<text class="t" x="453.44" y="469.79" font-size="9.3" textLength="8.59" lengthAdjust="spacingAndGlyphs">25</text>
<text class="t" x="462.16" y="635" font-size="9.3" textLength="4.29" lengthAdjust="spacingAndGlyphs">0</text>
<text class="t" x="491.06" y="635" font-size="9.3" textLength="8.59" lengthAdjust="spacingAndGlyphs">20</text>
<text class="t" x="522.25" y="635" font-size="9.3" textLength="8.59" lengthAdjust="spacingAndGlyphs">40</text>
<text class="t" x="553.24" y="635" font-size="9.3" textLength="8.59" lengthAdjust="spacingAndGlyphs">60</text>
<text class="t" x="584.35" y="635" font-size="9.3" textLength="8.59" lengthAdjust="spacingAndGlyphs">80</text>
<text class="t" x="613.18" y="635" font-size="9.3" textLength="12.88" lengthAdjust="spacingAndGlyphs">100</text>
<text class="t" x="644.26" y="635" font-size="9.3" textLength="12.88" lengthAdjust="spacingAndGlyphs">120</text>
<text class="t" x="675.35" y="635" font-size="9.3" textLength="12.88" lengthAdjust="spacingAndGlyphs">140</text>
<text class="t" x="706.44" y="635" font-size="9.3" textLength="12.88" lengthAdjust="spacingAndGlyphs">160</text>
<text class="a" x="537.82" y="645" font-size="9" textLength="99.31" lengthAdjust="spacingAndGlyphs">Días desde la emergencia</text>
<text class="a" transform="translate(447.4 573.5) rotate(-90)" x="-0.81" y="0" font-size="9" textLength="56.96" lengthAdjust="spacingAndGlyphs">Incidencia (%)</text>
<ellipse cx="477.7" cy="476.9" rx="2.6" ry="2.4" fill="none" stroke="#1a1a1a" stroke-width="1"/>
<text class="l" x="489.47" y="478.8" font-size="7.8" textLength="20.42" lengthAdjust="spacingAndGlyphs">Datos</text>
<path d="M470.1 487.9H483" stroke="#666" stroke-width="0.9" stroke-dasharray="1.2 1.8"/>
<text class="l" x="489.48" y="490.2" font-size="7.8" textLength="30.95" lengthAdjust="spacingAndGlyphs">Logístico</text>
<clipPath id="cP6"><rect x="464.3" y="466.5" width="248.7" height="159"/></clipPath>
<g clip-path="url(#cP6)">
<polyline points="464.3,625.5 465.85,625.5 467.41,625.5 468.96,625.5 470.52,625.5 472.07,625.5 473.63,625.5 475.18,625.49 476.74,625.49 478.29,625.49 479.84,625.49 481.4,625.49 482.95,625.49 484.51,625.49 486.06,625.48 487.62,625.48 489.17,625.48 490.72,625.47 492.28,625.47 493.83,625.47 495.39,625.46 496.94,625.45 498.5,625.44 500.05,625.43 501.61,625.42 503.16,625.41 504.71,625.39 506.27,625.37 507.82,625.35 509.38,625.33 510.93,625.3 512.49,625.26 514.04,625.22 515.59,625.17 517.15,625.12 518.7,625.05 520.26,624.98 521.81,624.89 523.37,624.78 524.92,624.66 526.48,624.52 528.03,624.35 529.58,624.16 531.14,623.93 532.69,623.67 534.25,623.37 535.8,623.02 537.36,622.62 538.91,622.16 540.46,621.63 542.02,621.03 543.57,620.34 545.13,619.57 546.68,618.71 548.24,617.74 549.79,616.67 551.35,615.49 552.9,614.21 554.45,612.82 556.01,611.34 557.56,609.78 559.12,608.14 560.67,606.46 562.23,604.74 563.78,603.01 565.33,601.29 566.89,599.61 568.44,597.97 570,596.41 571.55,594.93 573.11,593.55 574.66,592.26 576.22,591.08 577.77,590.01 579.32,589.05 580.88,588.18 582.43,587.41 583.99,586.72 585.54,586.12 587.1,585.59 588.65,585.13 590.2,584.73 591.76,584.38 593.31,584.08 594.87,583.82 596.42,583.6 597.98,583.4 599.53,583.24 601.09,583.09 602.64,582.97 604.19,582.87 605.75,582.78 607.3,582.7 608.86,582.63 610.41,582.58 611.97,582.53 613.52,582.49 615.07,582.45 616.63,582.42 618.18,582.4 619.74,582.38 621.29,582.36 622.85,582.34 624.4,582.33 625.96,582.32 627.51,582.31 629.06,582.3 630.62,582.29 632.17,582.29 633.73,582.28 635.28,582.28 636.84,582.27 638.39,582.27 639.94,582.27 641.5,582.27 643.05,582.26 644.61,582.26 646.16,582.26 647.72,582.26 649.27,582.26 650.83,582.26 652.38,582.26 653.93,582.26 655.49,582.26 657.04,582.25 658.6,582.25 660.15,582.25 661.71,582.25 663.26,582.25 664.81,582.25 666.37,582.25 667.92,582.25 669.48,582.25 671.03,582.25 672.59,582.25 674.14,582.25 675.69,582.25 677.25,582.25 678.8,582.25 680.36,582.25 681.91,582.25 683.47,582.25 685.02,582.25 686.58,582.25 688.13,582.25 689.68,582.25 691.24,582.25 692.79,582.25 694.35,582.25 695.9,582.25 697.46,582.25 699.01,582.25 700.57,582.25 702.12,582.25 703.67,582.25 705.23,582.25 706.78,582.25 708.34,582.25 709.89,582.25 711.45,582.25 713,582.25" fill="none" stroke="#444" stroke-width="0.95" stroke-dasharray="1.1 1.9"/>
<ellipse cx="464.3" cy="625.5" rx="2.35" ry="2.25" fill="none" stroke="#1a1a1a" stroke-width="1.1"/>
<ellipse cx="498.5" cy="625.5" rx="2.35" ry="2.25" fill="none" stroke="#1a1a1a" stroke-width="1.1"/>
<ellipse cx="508.76" cy="625.5" rx="2.35" ry="2.25" fill="none" stroke="#1a1a1a" stroke-width="1.1"/>
<ellipse cx="541.4" cy="625.5" rx="2.35" ry="2.25" fill="none" stroke="#1a1a1a" stroke-width="1.1"/>
<ellipse cx="557.25" cy="625.5" rx="2.35" ry="2.25" fill="none" stroke="#1a1a1a" stroke-width="1.1"/>
<ellipse cx="564.09" cy="589.88" rx="2.35" ry="2.25" fill="none" stroke="#1a1a1a" stroke-width="1.1"/>
<ellipse cx="591.45" cy="593.7" rx="2.35" ry="2.25" fill="none" stroke="#1a1a1a" stroke-width="1.1"/>
<ellipse cx="613.36" cy="572.71" rx="2.35" ry="2.25" fill="none" stroke="#1a1a1a" stroke-width="1.1"/>
<ellipse cx="615.39" cy="588.29" rx="2.35" ry="2.25" fill="none" stroke="#1a1a1a" stroke-width="1.1"/>
<ellipse cx="647.72" cy="588.29" rx="2.35" ry="2.25" fill="none" stroke="#1a1a1a" stroke-width="1.1"/>
<ellipse cx="661.71" cy="586.7" rx="2.35" ry="2.25" fill="none" stroke="#1a1a1a" stroke-width="1.1"/>
<ellipse cx="667.77" cy="577.8" rx="2.35" ry="2.25" fill="none" stroke="#1a1a1a" stroke-width="1.1"/>
<ellipse cx="689.22" cy="577.8" rx="2.35" ry="2.25" fill="none" stroke="#1a1a1a" stroke-width="1.1"/>
</g>
<text class="c" x="494.85" y="678" font-size="14.6" textLength="36.34" lengthAdjust="spacingAndGlyphs" clip-path="url(#ccP6)">Marzo:</text>
<text class="c" x="534.87" y="678" font-size="14.6" textLength="13.75" lengthAdjust="spacingAndGlyphs" clip-path="url(#ccP6)">10</text>
<text class="c" x="553.37" y="678" font-size="14.6" textLength="64.62" lengthAdjust="spacingAndGlyphs" clip-path="url(#ccP6)">aplicaciones</text>
<clipPath id="ccP6"><rect x="0" y="0" width="735" height="678.4"/></clipPath></g>
<text class="fb" x="52.95" y="717.9" font-size="14.6" textLength="48.03" lengthAdjust="spacingAndGlyphs">Figura 1.</text>
<text class="fr" x="103.74" y="717.9" font-size="14.6" textLength="546.23" lengthAdjust="spacingAndGlyphs">Curvas logísticas (ajustadas) para la incidencia (porcentaje) de cancro en hojas de brotaciones de diciembre,</text>
<text class="fr" x="53.13" y="734.7" font-size="14.6" textLength="312.77" lengthAdjust="spacingAndGlyphs">febrero y marzo, con seis y diez aplicaciones de óxido cuproso.</text>
</svg>
</body></html>
